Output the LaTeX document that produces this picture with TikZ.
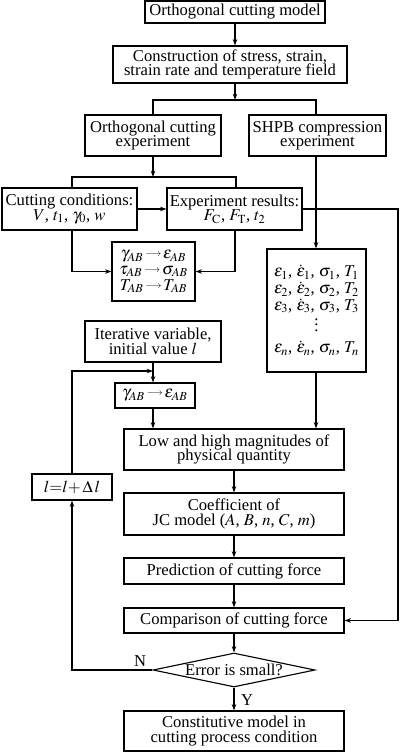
\documentclass[tikz,border=0pt]{standalone}
\usepackage{amsmath,amssymb}
\usepackage{mathptmx}
\usepackage{fontspec}
\setmainfont{Liberation Serif}
\usepackage{tikz}
\usetikzlibrary{arrows.meta,shapes.geometric,positioning}
\newcommand{\fl}{\mathrel{\!\raisebox{1.6pt}{$\scriptscriptstyle\longrightarrow$}\!}}
\newcommand{\letra}{\fontsize{11.8}{10.2}\selectfont\lineskiplimit=-20pt\relax}
\begin{document}
\begin{tikzpicture}
	[x=0.025cm,y=-0.025cm,
	caja/.style={rectangle,draw=black,line width=0.8pt,align=center,
		inner sep=0pt,font=\letra},
	rombo/.style={diamond,draw=black,line width=0.8pt,
		inner sep=0pt,minimum width=4.05cm,minimum height=0.85cm},
	linea/.style={line width=0.8pt},
	flecha/.style={line width=0.8pt,-{Stealth[length=4.5pt,width=3.2pt]}}]
	\useasboundingbox (0,0) rectangle (400,753);
	%cajas de arriba
	\node (modelo) at (235,12) [caja,minimum width=4.5cm,minimum height=0.55cm] {Orthogonal cutting model};
	\node (campo) at (230,64.5) [caja,minimum width=5.85cm,minimum height=0.925cm] {Construction of stress, strain,\\strain rate and temperature field};
	\node (expo) at (153,135.5) [caja,minimum width=3.4cm,minimum height=1.025cm] {Orthogonal cutting\\experiment};
	\node (shpb) at (317.5,135.5) [caja,minimum width=3.425cm,minimum height=1.025cm] {SHPB compression\\experiment};
	\node (cond) at (69.5,209) [caja,minimum width=3.375cm,minimum height=1.05cm] {Cutting conditions:\\$V$, $t_1$, $\gamma_0$, $w$};
	\node (result) at (234.5,209) [caja,minimum width=3.375cm,minimum height=1.05cm] {Experiment results:\\$F_{\mathrm{C}}$, $F_{\mathrm{T}}$, $t_2$};
	\node (mapa) at (153.5,271.5) [caja,minimum width=2.075cm,minimum height=1.475cm] {$\gamma_{AB}\fl\varepsilon_{AB}$\\[1.1pt]$\tau_{AB}\fl\sigma_{AB}$\\[1.1pt]$T_{AB}\fl T_{AB}$};
	\node (lista) at (316.5,310.5) [caja,minimum width=2.475cm,minimum height=3.075cm] {$\varepsilon_1$, $\dot{\varepsilon}_1$, $\sigma_1$, $T_1$\\[1.6pt]$\varepsilon_2$, $\dot{\varepsilon}_2$, $\sigma_2$, $T_2$\\[1.6pt]$\varepsilon_3$, $\dot{\varepsilon}_3$, $\sigma_3$, $T_3$\\[5pt]$\vdots$\\[5pt]$\varepsilon_n$, $\dot{\varepsilon}_n$, $\sigma_n$, $T_n$};
	%iteracion
	\node (iter) at (153,341.5) [caja,minimum width=3.4cm,minimum height=1.025cm] {Iterative variable,\\initial value $l$};
	\node (gamma) at (155,395.5) [caja,minimum width=2cm,minimum height=0.625cm] {$\gamma_{AB}\fl\varepsilon_{AB}$};
	\node (incr) at (72,487) [caja,minimum width=2cm,minimum height=0.65cm] {$l{=}l{+}\,\Delta\,l$};
	\node (magn) at (234,449.5) [caja,minimum width=5.5cm,minimum height=1.025cm] {Low and high magnitudes of\\physical quantity};
	\node (coef) at (234,514) [caja,minimum width=5.5cm,minimum height=1.05cm] {Coefficient of\\JC model ($A$, $B$, $n$, $C$, $m$)};
	\node (pred) at (234,571) [caja,minimum width=5.5cm,minimum height=0.65cm] {Prediction of cutting force};
	\node (comp) at (234,620.5) [caja,minimum width=5.5cm,minimum height=0.625cm] {Comparison of cutting force};
	\node (error) at (234,670) [rombo,label={[font=\letra]center:Error is small?}] {};
	\node (final) at (234,731) [caja,minimum width=5.5cm,minimum height=1cm] {Constitutive model in\\cutting process condition};
	%puntos de las lineas
	\coordinate (p1) at (235,100);
	\coordinate (p2) at (153,177);
	\coordinate (p3) at (398,0);
	\coordinate (p4) at (72,371);
	\coordinate (xc) at (72,0);
	\coordinate (xr) at (236,0);
	\coordinate (xm) at (235,0);
	\coordinate (xs) at (316,0);
	%lineas
	\draw[flecha] (modelo.south) -- (modelo.south |- campo.north);
	\draw[flecha] (modelo.south |- campo.south) -- (p1);
	\draw[linea] (expo.north) |- (p1) -| (shpb.north -| xs);
	\draw[flecha] (expo.south) -- (p2);
	\draw[linea] (cond.north -| xc) |- (p2) -| (result.north -| xr);
	\draw[flecha] (shpb.south -| xs) -- (lista.north -| xs);
	\draw[flecha] (cond.east) -- (result.west);
	\draw[flecha] (result.east) -- (result.east -| p3) |- (comp.east);
	\draw[flecha] (cond.south -| xc) |- (mapa.west);
	\draw[flecha] (result.south -| xm) |- (mapa.east);
	\draw[flecha] (iter.south) -- (iter.south |- gamma.north);
	\draw[flecha] (incr.north) |- (p4) -- (p4 -| iter.south);
	\draw[flecha] (gamma.south -| iter.south) -- (magn.north -| iter.south);
	\draw[flecha] (lista.south -| xs) -- (magn.north -| xs);
	\draw[flecha] (magn) -- (coef);
	\draw[flecha] (coef) -- (pred);
	\draw[flecha] (pred) -- (comp);
	\draw[flecha] (comp) -- (error);
	\draw[flecha] (error.west) -| (incr.south);
	\draw[flecha] (error.south) -- (final.north);
	%etiquetas
	\node (etqn) at (140,661) [font=\letra] {N};
	\node (etqy) at (247,700) [font=\letra] {Y};
\end{tikzpicture}
\end{document}
